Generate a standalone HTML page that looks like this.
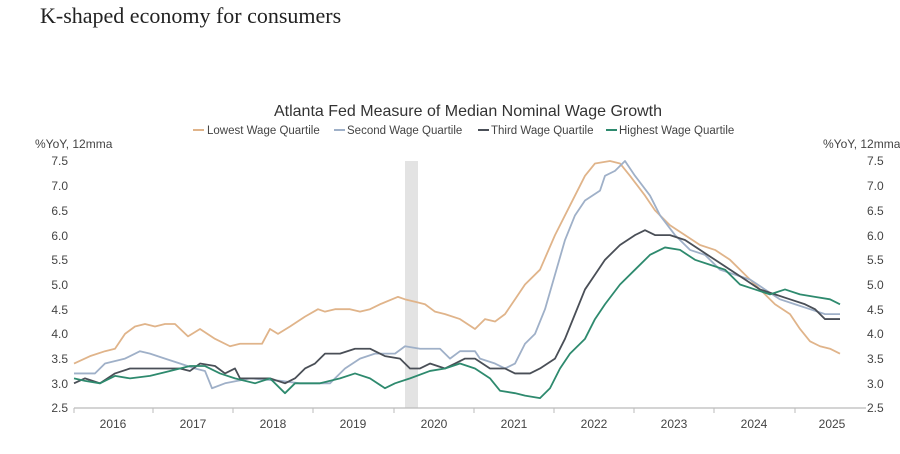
<!DOCTYPE html>
<html><head><meta charset="utf-8"><style>
body{margin:0;background:#fff;width:900px;height:454px;overflow:hidden}
svg{display:block}
</style></head><body>
<svg width="900" height="454" xmlns="http://www.w3.org/2000/svg" font-family="Liberation Sans, DejaVu Sans, sans-serif">
<text x="40" y="23" font-family="Liberation Serif, serif" font-size="22" fill="#222">K-shaped economy for consumers</text>
<text x="468" y="116" font-size="16" fill="#333" text-anchor="middle">Atlanta Fed Measure of Median Nominal Wage Growth</text>
<g font-size="11.5" fill="#444">
<line x1="193" y1="130" x2="204" y2="130" stroke="#e0b48a" stroke-width="2"/><text x="207" y="134">Lowest Wage Quartile</text>
<line x1="334" y1="130" x2="345" y2="130" stroke="#9fb0c8" stroke-width="2"/><text x="347" y="134">Second Wage Quartile</text>
<line x1="478" y1="130" x2="489" y2="130" stroke="#4a4f57" stroke-width="2"/><text x="491" y="134">Third Wage Quartile</text>
<line x1="606" y1="130" x2="617" y2="130" stroke="#2e8a6e" stroke-width="2"/><text x="619" y="134">Highest Wage Quartile</text>
</g>
<g font-size="12" fill="#444">
<text x="35" y="148">%YoY, 12mma</text>
<text x="823" y="148">%YoY, 12mma</text>
</g>
<g font-size="12" fill="#444" text-anchor="end">
<text x="68" y="165">7.5</text><text x="68" y="190">7.0</text><text x="68" y="215">6.5</text><text x="68" y="240">6.0</text><text x="68" y="289">5.0</text><text x="68" y="264">5.5</text><text x="68" y="314">4.5</text><text x="68" y="338">4.0</text><text x="68" y="363">3.5</text><text x="68" y="388">3.0</text><text x="68" y="412">2.5</text>
</g>
<g font-size="12" fill="#444">
<text x="867" y="165">7.5</text><text x="867" y="190">7.0</text><text x="867" y="215">6.5</text><text x="867" y="240">6.0</text><text x="867" y="264">5.5</text><text x="867" y="289">5.0</text><text x="867" y="314">4.5</text><text x="867" y="338">4.0</text><text x="867" y="363">3.5</text><text x="867" y="388">3.0</text><text x="867" y="412">2.5</text>
</g>
<rect x="405" y="161" width="13" height="247" fill="#e3e3e3"/>
<line x1="74" y1="408" x2="866" y2="408" stroke="#bbb" stroke-width="1.2"/>
<g stroke="#bbb" stroke-width="1">
<line x1="74" y1="408" x2="74" y2="413"/><line x1="153" y1="408" x2="153" y2="413"/><line x1="233" y1="408" x2="233" y2="413"/><line x1="313" y1="408" x2="313" y2="413"/><line x1="394" y1="408" x2="394" y2="413"/><line x1="474" y1="408" x2="474" y2="413"/><line x1="554" y1="408" x2="554" y2="413"/><line x1="634" y1="408" x2="634" y2="413"/><line x1="714" y1="408" x2="714" y2="413"/><line x1="795" y1="408" x2="795" y2="413"/>
</g>
<g font-size="12" fill="#444" text-anchor="middle">
<text x="113" y="428">2016</text><text x="193" y="428">2017</text><text x="273" y="428">2018</text><text x="353" y="428">2019</text><text x="434" y="428">2020</text><text x="514" y="428">2021</text><text x="594" y="428">2022</text><text x="674" y="428">2023</text><text x="754" y="428">2024</text><text x="832" y="428">2025</text>
</g>
<g transform="matrix(1 0 0 -49.4 0 531.5)" fill="none" stroke-width="1.8" stroke-linejoin="round">
<polyline vector-effect="non-scaling-stroke" stroke="#e0b48a" points="74,3.4 90,3.55 105,3.65 115,3.7 125,4.0 135,4.15 145,4.2 155,4.15 165,4.2 175,4.2 188,3.95 200,4.1 215,3.9 230,3.75 240,3.8 262,3.8 270,4.1 278,4.0 290,4.15 305,4.35 318,4.5 325,4.45 335,4.5 350,4.5 360,4.45 370,4.5 380,4.6 398,4.75 405,4.7 415,4.65 425,4.6 435,4.45 445,4.4 460,4.3 475,4.1 485,4.3 495,4.25 505,4.4 515,4.7 525,5.0 540,5.3 555,6.0 570,6.6 585,7.2 595,7.45 610,7.5 620,7.45 630,7.2 645,6.8 655,6.5 670,6.2 685,6.0 700,5.8 715,5.7 730,5.5 745,5.2 760,4.9 775,4.6 790,4.4 800,4.1 810,3.85 820,3.75 830,3.7 840,3.6"/>
<polyline vector-effect="non-scaling-stroke" stroke="#9fb0c8" points="74,3.2 95,3.2 105,3.4 125,3.5 140,3.65 150,3.6 165,3.5 180,3.4 195,3.3 205,3.25 212,2.9 225,3.0 250,3.1 280,3.05 300,3.0 330,3.0 345,3.3 360,3.5 375,3.6 395,3.6 405,3.75 420,3.7 440,3.7 450,3.5 460,3.65 475,3.65 480,3.5 495,3.4 505,3.3 515,3.4 525,3.8 535,4.0 545,4.5 555,5.2 565,5.9 575,6.4 585,6.7 600,6.9 605,7.2 615,7.3 625,7.5 635,7.2 650,6.8 660,6.4 675,6.0 690,5.7 705,5.6 720,5.3 735,5.2 750,5.1 765,4.9 780,4.7 795,4.6 810,4.5 825,4.4 840,4.4"/>
<polyline vector-effect="non-scaling-stroke" stroke="#4a4f57" points="74,3.0 85,3.1 100,3.0 115,3.2 130,3.3 150,3.3 165,3.3 180,3.3 190,3.25 200,3.4 215,3.35 225,3.2 235,3.3 240,3.1 255,3.1 270,3.1 285,3.0 295,3.1 305,3.3 315,3.4 325,3.6 340,3.6 355,3.7 370,3.7 385,3.55 400,3.5 410,3.3 420,3.3 430,3.4 445,3.3 455,3.4 465,3.5 475,3.5 490,3.3 505,3.3 515,3.2 530,3.2 540,3.3 555,3.5 565,3.9 575,4.4 585,4.9 595,5.2 605,5.5 620,5.8 635,6.0 645,6.1 655,6.0 670,6.0 685,5.9 700,5.7 715,5.5 730,5.3 745,5.1 760,4.9 775,4.8 790,4.7 805,4.6 815,4.5 825,4.3 840,4.3"/>
<polyline vector-effect="non-scaling-stroke" stroke="#2e8a6e" points="74,3.1 85,3.05 100,3.0 115,3.15 130,3.1 150,3.15 170,3.25 190,3.35 205,3.35 220,3.2 235,3.1 255,3.0 270,3.1 285,2.8 295,3.0 305,3.0 320,3.0 340,3.1 355,3.2 370,3.1 385,2.9 395,3.0 410,3.1 430,3.25 445,3.3 460,3.4 475,3.3 490,3.1 500,2.85 515,2.8 525,2.75 540,2.7 550,2.9 560,3.3 570,3.6 585,3.9 595,4.3 605,4.6 620,5.0 635,5.3 650,5.6 665,5.75 680,5.7 695,5.5 710,5.4 725,5.3 740,5.0 755,4.9 770,4.8 785,4.9 800,4.8 815,4.75 830,4.7 840,4.6"/>
</g>
</svg>
</body></html>
